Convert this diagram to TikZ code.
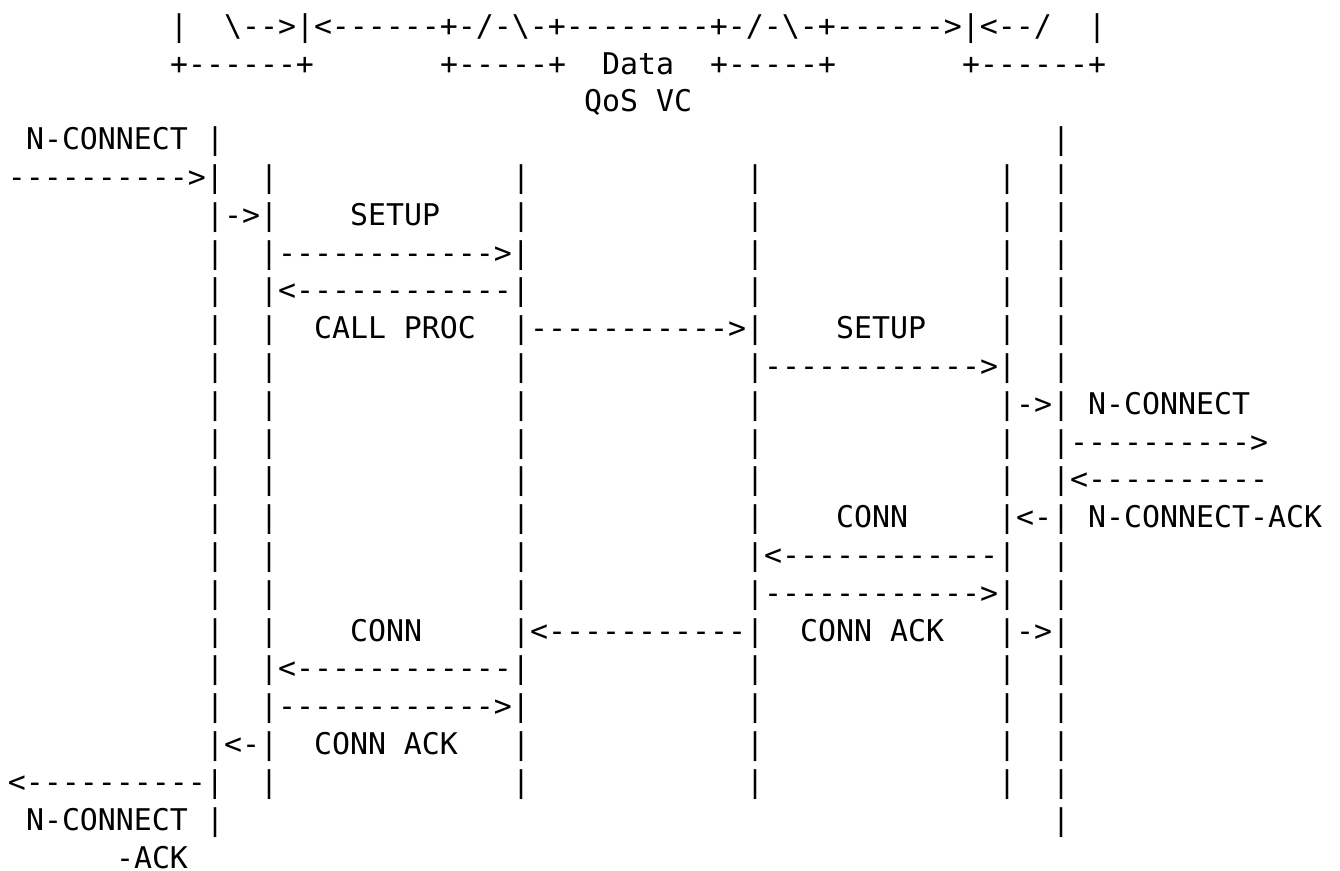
\documentclass[tikz,border=0pt]{standalone}
\usepackage{fontspec}
\setmonofont{DejaVu Sans Mono}
\tikzset{
  ascii/.style={anchor=base west, inner sep=0pt, outer sep=0pt,
    font=\ttfamily\fontsize{14.95}{18}\selectfont, text=black},
}
% one run of characters at (column,row) of the character grid
\newcommand\glyphrun[3]{\node[ascii] (r#2c#1) at (#1,#2) {#3};}
% single vertical bars of the lifelines in one row
\newcommand\lifebars[2]{\foreach \c in {#2} {\node[ascii] (r#1c\c) at (\c,#1) {|};}}
\newcommand\bs{\textbackslash}
\begin{document}
\begin{tikzpicture}
\fill[white] (0,0) rectangle (670pt,-435.5pt);
\useasboundingbox (0,0) rectangle (670pt,-435.5pt);
\begin{scope}[x=9pt, y=-18.9pt, shift={(4pt,0.7pt)}]
% connection boxes and the data VC
\glyphrun{9}{1}{|}
\glyphrun{12}{1}{\bs-->|<------+-/-\bs-+--------+-/-\bs-+------>|<--/}
\glyphrun{60}{1}{|}
\glyphrun{9}{2}{+------+}
\glyphrun{24}{2}{+-----+}
\glyphrun{33}{2}{Data}
\glyphrun{39}{2}{+-----+}
\glyphrun{53}{2}{+------+}
\glyphrun{32}{3}{QoS VC}
% message sequence
\glyphrun{1}{4}{N-CONNECT}
\lifebars{4}{11,58}
\glyphrun{0}{5}{---------->|}
\lifebars{5}{14,28,41,55,58}
\glyphrun{11}{6}{|->|}
\glyphrun{19}{6}{SETUP}
\lifebars{6}{28,41,55,58}
\lifebars{7}{11,41,55,58}
\glyphrun{14}{7}{|------------>|}
\lifebars{8}{11,41,55,58}
\glyphrun{14}{8}{|<------------|}
\lifebars{9}{11,14,55,58}
\glyphrun{17}{9}{CALL PROC}
\glyphrun{28}{9}{|----------->|}
\glyphrun{46}{9}{SETUP}
\lifebars{10}{11,14,28,58}
\glyphrun{41}{10}{|------------>|}
\lifebars{11}{11,14,28,41}
\glyphrun{55}{11}{|->|}
\glyphrun{60}{11}{N-CONNECT}
\lifebars{12}{11,14,28,41,55}
\glyphrun{58}{12}{|---------->}
\lifebars{13}{11,14,28,41,55}
\glyphrun{58}{13}{|<----------}
\lifebars{14}{11,14,28,41}
\glyphrun{46}{14}{CONN}
\glyphrun{55}{14}{|<-|}
\glyphrun{60}{14}{N-CONNECT-ACK}
\lifebars{15}{11,14,28,58}
\glyphrun{41}{15}{|<------------|}
\lifebars{16}{11,14,28,58}
\glyphrun{41}{16}{|------------>|}
\lifebars{17}{11,14}
\glyphrun{19}{17}{CONN}
\glyphrun{28}{17}{|<-----------|}
\glyphrun{44}{17}{CONN ACK}
\glyphrun{55}{17}{|->|}
\lifebars{18}{11,41,55,58}
\glyphrun{14}{18}{|<------------|}
\lifebars{19}{11,41,55,58}
\glyphrun{14}{19}{|------------>|}
\glyphrun{11}{20}{|<-|}
\glyphrun{17}{20}{CONN ACK}
\lifebars{20}{28,41,55,58}
\glyphrun{0}{21}{<----------|}
\lifebars{21}{14,28,41,55,58}
\glyphrun{1}{22}{N-CONNECT}
\lifebars{22}{11,58}
\glyphrun{6}{23}{-ACK}
\end{scope}
\end{tikzpicture}
\end{document}
